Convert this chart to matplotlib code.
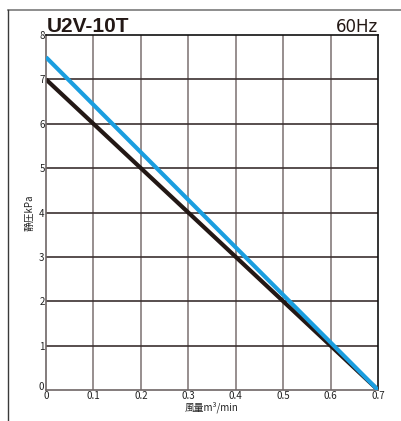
import matplotlib
matplotlib.use("Agg")
import matplotlib.pyplot as plt
from matplotlib.lines import Line2D

# 風量 [m3/min] と静圧 [kPa]
flow = [0.0, 0.7]
pressure_black = [7.0, 0.0]
pressure_blue = [7.5, 0.0]
xticks = [0, 0.1, 0.2, 0.3, 0.4, 0.5, 0.6, 0.7]
xticklabels = ["0", "0.1", "0.2", "0.3", "0.4", "0.5", "0.6", "0.7"]
yticks = [1, 2, 3, 4, 5, 6, 7, 8]

plt.rcParams["font.family"] = ["Liberation Sans Narrow", "Noto Sans CJK JP", "DejaVu Sans"]

fig = plt.figure(figsize=(4.01, 4.21), dpi=100)
ax = fig.add_axes([0.1147, 0.0736, 0.828, 0.8432])

# 外枠
fig.add_artist(Line2D([0.02, 1.0], [0.976, 0.976], transform=fig.transFigure, color="#7a7a7a", lw=1.2))
fig.add_artist(Line2D([0.02, 0.02], [0.0, 0.976], transform=fig.transFigure, color="#3a3a3a", lw=1.0))

ax.set_xlim(0, 0.7)
ax.set_ylim(0, 8)

for x in xticks[1:-1]:
    ax.axvline(x, color="#857c7c", lw=1.2, zorder=1)
for y in yticks[:-1]:
    ax.axhline(y, color="#3b3030", lw=1.2, zorder=1)

ax.plot(flow, pressure_blue, color="#1a9ee0", lw=3, solid_capstyle="butt", zorder=3)
ax.plot(flow, pressure_black, color="#231815", lw=3, solid_capstyle="butt", zorder=2)

for side in ["left", "bottom"]:
    ax.spines[side].set_color("#6e6666")
    ax.spines[side].set_linewidth(1.2)
for side in ["top", "right"]:
    ax.spines[side].set_color("#111111")
    ax.spines[side].set_linewidth(1.2)

ax.set_xticks(xticks)
ax.set_xticklabels(xticklabels)
ax.set_yticks(yticks)
ax.tick_params(length=0, labelsize=7, pad=1, colors="#222222")
ax.text(-0.004, -0.05, "0", ha="right", va="bottom", fontsize=7, color="#222222")

ax.set_xlabel("風量m³/min", fontsize=7, labelpad=0, color="#222222")
ax.set_ylabel("静圧kPa", fontsize=7, labelpad=3, color="#222222")

fig.text(0.116, 0.924, "U2V-10T", fontsize=15, fontweight="bold", family="Liberation Sans",
         ha="left", va="baseline", color="#231815")
fig.text(0.942, 0.924, "60Hz", fontsize=12, family="Liberation Sans Narrow",
         ha="right", va="baseline", color="#231815")

fig.savefig("out.png", dpi=100)
